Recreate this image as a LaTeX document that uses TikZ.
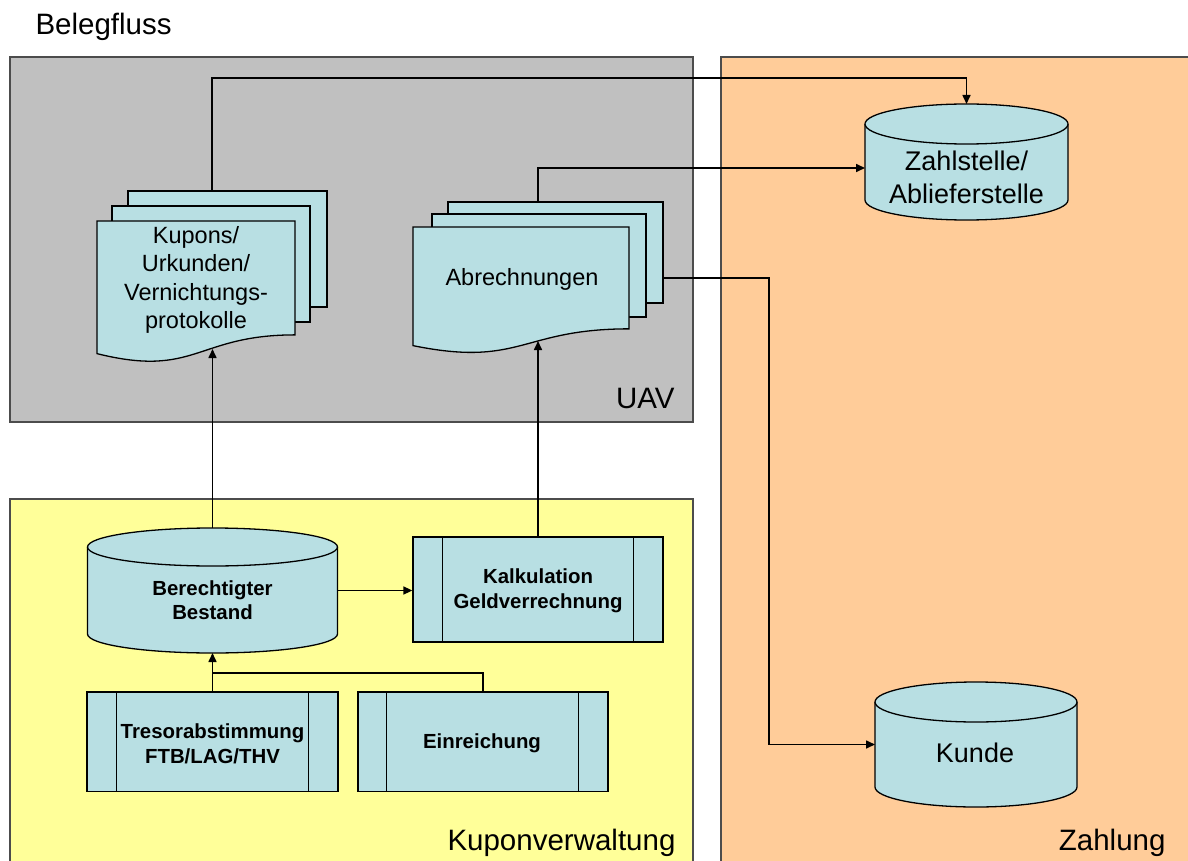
\documentclass[tikz,border=0pt]{standalone}
\usepackage{fontspec}
\setmainfont{Liberation Sans}
\usetikzlibrary{arrows.meta}
\definecolor{uavgray}{HTML}{C0C0C0}
\definecolor{kupyellow}{HTML}{FFFF99}
\definecolor{zahlorange}{HTML}{FFCC99}
\definecolor{shapefill}{HTML}{B8DFE3}
\newcommand\fsz[2]{\fontsize{#1}{#2}\selectfont}
\newcommand\docshape[4]{%
  \filldraw[shapestyle] (#1,-#3) -- (#2,-#3) -- (#2,{-(#3+0.802*#4)})
    .. controls ({(#1+#2)/2},{-(#3+0.802*#4)}) and ({(#1+#2)/2},{-(#3+1.1075*#4)}) ..
    (#1,{-(#3+0.934*#4)}) -- cycle;}
\newcommand\cylshape[5]{%
  \filldraw[shapestyle] (#1-#4,-#2) -- (#1-#4,-#3)
    arc[start angle=180,end angle=360,x radius=#4pt,y radius=#5pt]
    -- (#1+#4,-#2)
    arc[start angle=0,end angle=180,x radius=#4pt,y radius=#5pt] -- cycle;
  \draw[shapestyle] (#1-#4,-#2) arc[start angle=180,end angle=360,x radius=#4pt,y radius=#5pt];}
\tikzset{
  region/.style={draw=black!70, line width=1.3pt},
  shapestyle/.style={fill=shapefill, draw=black, line width=1.3pt},
  procbox/.style={shapestyle, inner sep=0pt, minimum width=#1},
  anchorbox/.style={inner sep=0pt, outer sep=0pt},
  conn/.style={draw=black, line width=1.6pt},
  arr/.style={conn, -{Triangle[length=9pt,width=8pt]}},
  doctext/.style={align=center, font=\fsz{23.5}{28.5}},
  cyltext/.style={align=center, font=\fsz{27}{33}},
  boldtext/.style={align=center, font=\fsz{20.4}{24.5}\bfseries},
  regiontext/.style={font=\fsz{29.5}{34}}
}
\begin{document}
\begin{tikzpicture}[x=1pt,y=1pt]
\useasboundingbox (0,0) rectangle (1188,-861);
% regions
\filldraw[region, fill=uavgray] (10,-57) rectangle (693,-422);
\filldraw[region, fill=kupyellow] (10,-499) rectangle (693,-870);
\filldraw[region, fill=zahlorange] (721,-57) rectangle (1196,-870);
\node[regiontext, anchor=base west] (title) at (32,-35) {Belegfluss};
\node[regiontext, anchor=base east] (uav) at (678,-408) {UAV};
\node[regiontext, anchor=base east] (kv) at (679,-850) {Kuponverwaltung};
\node[regiontext, anchor=base east] (zl) at (1169,-850) {Zahlung};
% Kupons document stack
\filldraw[shapestyle] (128,-191) rectangle (327,-307);
\filldraw[shapestyle] (112,-206) rectangle (310,-322);
\docshape{97}{295}{221}{142}
\node[anchorbox, minimum width=230pt, minimum height=158pt] (kup) at (212,-270) {};
\node[doctext] (kuptext) at (196,-280) {Kupons/\\Urkunden/\\Vernichtungs-\\protokolle};
% Abrechnungen document stack
\filldraw[shapestyle] (448,-202) rectangle (663,-303);
\filldraw[shapestyle] (432,-214) rectangle (646,-317);
\docshape{413}{629}{227}{127}
\node[anchorbox, minimum width=250pt, minimum height=139pt] (abr) at (538,-271.5) {};
\node[doctext] (abrtext) at (522,-279) {Abrechnungen};
% cylinders
\cylshape{212.5}{547}{634}{125}{19}
\node[anchorbox, minimum width=250pt, minimum height=125pt] (best) at (212.5,-590.5) {};
\node[boldtext] (besttext) at (212.5,-600) {Berechtigter\\Bestand};
\cylshape{966.5}{124}{200}{101.5}{20}
\node[anchorbox, minimum width=203pt, minimum height=116pt] (zahl) at (966.5,-162) {};
\node[cyltext] (zahltext) at (966.5,-177) {Zahlstelle/\\Ablieferstelle};
\cylshape{976}{702}{787}{101}{20}
\node[anchorbox, minimum width=202pt, minimum height=125pt] (kunde) at (976,-744.5) {};
\node[cyltext] (kundetext) at (975,-753) {Kunde};
% process boxes
\node[procbox=250pt, minimum height=105pt] (kalk) at (538,-589.5) {};
\draw[shapestyle] ([xshift=30pt]kalk.north west) -- ([xshift=30pt]kalk.south west)
  ([xshift=-30pt]kalk.north east) -- ([xshift=-30pt]kalk.south east);
\node[boldtext] (kalktext) at (538,-591) {Kalkulation\\Geldverrechnung};
\node[procbox=251pt, minimum height=99.5pt] (tres) at (212.5,-741.75) {};
\draw[shapestyle] ([xshift=30pt]tres.north west) -- ([xshift=30pt]tres.south west)
  ([xshift=-30pt]tres.north east) -- ([xshift=-30pt]tres.south east);
\node[boldtext] (trestext) at (212.5,-744) {Tresorabstimmung\\FTB/LAG/THV};
\node[procbox=250pt, minimum height=99.5pt] (einr) at (483,-741.75) {};
\draw[shapestyle] ([xshift=29pt]einr.north west) -- ([xshift=29pt]einr.south west)
  ([xshift=-30pt]einr.north east) -- ([xshift=-30pt]einr.south east);
\node[boldtext] (einrtext) at (482,-743) {Einreichung};
% connectors
\coordinate (join) at (212.5,-673);
\draw[arr] (kup.north) |- ([yshift=26pt]zahl.north) -- (zahl.north);
\draw[arr] (abr.north) |- ([yshift=-6pt]zahl.west);
\draw[arr] ([yshift=-6.5pt]abr.east) -| ([xshift=-106pt]kunde.west) -- (kunde.west);
\draw[arr] (best.north) -- (best.north |- kup.south);
\draw[arr] (kalk.north) -- (abr.south);
\draw[arr] (best.east) -- (best.east -| kalk.west);
\draw[arr] (tres.north) -- (best.south);
\draw[conn] (einr.north) |- (join);
\end{tikzpicture}
\end{document}
